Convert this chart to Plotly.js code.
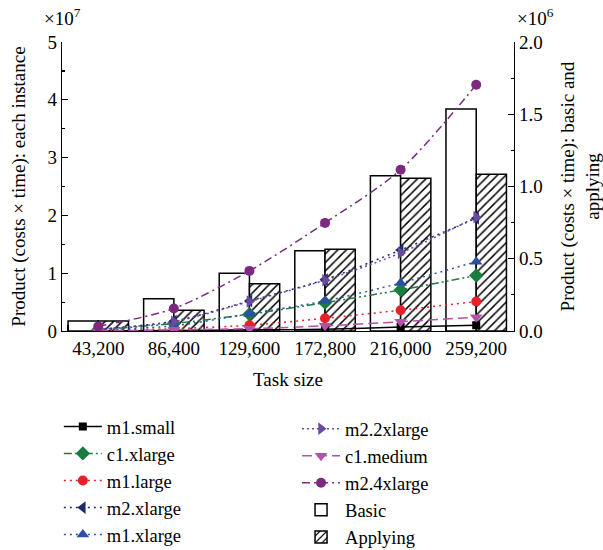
<!DOCTYPE html>
<html>
<head>
<meta charset="utf-8">
<script src="https://cdn.plot.ly/plotly-3.0.1.min.js"></script>
<style>html,body{margin:0;padding:0;background:#fff;}#chart{width:603px;height:550px;}</style>
</head>
<body>
<div id="chart"></div>
<script>
// Task sizes (category labels)
var taskSizes = ["43,200", "86,400", "129,600", "172,800", "216,000", "259,200"];
var catIndex = [0, 1, 2, 3, 4, 5];

// Per-instance products, in units of 10^7 (left axis)
var m1Small   = [0.00, 0.01, 0.02, 0.03, 0.07, 0.10];
var c1Xlarge  = [0.02, 0.13, 0.29, 0.49, 0.71, 0.96];
var m1Large   = [0.01, 0.04, 0.10, 0.22, 0.36, 0.51];
var m2Xlarge  = [0.03, 0.17, 0.52, 0.89, 1.40, 1.95];
var m1Xlarge  = [0.02, 0.09, 0.30, 0.52, 0.83, 1.20];
var m22Xlarge = [0.03, 0.16, 0.51, 0.88, 1.35, 1.97];
var c1Medium  = [0.00, 0.02, 0.04, 0.09, 0.16, 0.24];
var m24Xlarge = [0.08, 0.39, 1.04, 1.87, 2.79, 4.26];

// Basic and applying products, in units of 10^6 (right axis)
var basicVals    = [0.07, 0.224, 0.40, 0.556, 1.075, 1.536];
var applyingVals = [0.07, 0.143, 0.327, 0.565, 1.057, 1.084];

var FONT = "Liberation Serif, Times New Roman, serif";

function lineTrace(name, vals, color, dash, symbol, size, legendId) {
  return {
    type: "scatter", mode: "lines+markers", name: name,
    x: catIndex, y: vals, yaxis: "y2", legend: legendId, legendrank: 100,
    line: {color: color, width: 1.5, dash: dash, shape: "spline", smoothing: 0.8},
    marker: {color: color, symbol: symbol, size: size}
  };
}

var traces = [
  {
    type: "bar", name: "Basic", x: catIndex, y: basicVals, yaxis: "y",
    width: 0.4, offset: -0.4, legend: "legend2", legendrank: 900,
    marker: {color: "#ffffff", line: {color: "#000000", width: 1.5}}
  },
  {
    type: "bar", name: "Applying", x: catIndex, y: applyingVals, yaxis: "y",
    width: 0.4, offset: 0, legend: "legend2", legendrank: 901,
    marker: {color: "#ffffff", line: {color: "#000000", width: 1.5},
             pattern: {shape: "/", fgcolor: "#000000", bgcolor: "#ffffff", size: 6, solidity: 0.25}}
  },
  lineTrace("m1.small",   m1Small,   "#000000", "solid",                  "square",         8,  "legend"),
  lineTrace("c1.xlarge",  c1Xlarge,  "#1a7d40", "8px,3px,2px,3px,2px,3px", "diamond",       11, "legend"),
  lineTrace("m1.large",   m1Large,   "#e8202a", "2px,4px",                "circle",         10, "legend"),
  lineTrace("m2.xlarge",  m2Xlarge,  "#1f2a6e", "2px,4px",                "triangle-left",  11, "legend"),
  lineTrace("m1.xlarge",  m1Xlarge,  "#2d4fa3", "2px,4px",                "triangle-up",    11, "legend"),
  lineTrace("m2.2xlarge", m22Xlarge, "#6a4a9e", "2px,3px",                "triangle-right", 11, "legend2"),
  lineTrace("c1.medium",  c1Medium,  "#b352a8", "10px,5px",               "triangle-down",  11, "legend2"),
  lineTrace("m2.4xlarge", m24Xlarge, "#7b2a7f", "8px,4px,2px,4px",        "circle",         10, "legend2")
];

var axisCommon = {
  showline: true, linecolor: "#000000", linewidth: 1.3, mirror: false,
  ticks: "inside", ticklen: 6, tickwidth: 1.2, tickcolor: "#000000",
  showgrid: false, zeroline: false,
  tickfont: {family: FONT, size: 19, color: "#000000"}
};

var legendCommon = {
  xanchor: "left", yanchor: "top", itemwidth: 38,
  orientation: "v", bgcolor: "rgba(0,0,0,0)", borderwidth: 0,
  font: {family: FONT, size: 18.5}, traceorder: "normal"
};

var layout = {
  width: 603, height: 550,
  paper_bgcolor: "#ffffff", plot_bgcolor: "#ffffff",
  margin: {l: 62, r: 89, t: 42, b: 219, autoexpand: false},
  font: {family: FONT, size: 19, color: "#000000"},
  barmode: "group",
  xaxis: Object.assign({}, axisCommon, {
    range: [-0.48, 5.5], tickmode: "array", tickvals: catIndex, ticktext: taskSizes,
    ticks: "",
    minor: {ticks: "inside", tick0: -0.4, dtick: 1, ticklen: 6, tickwidth: 1.2, tickcolor: "#000000"},
    title: {text: "Task size", font: {family: FONT, size: 19}, standoff: 14}
  }),
  yaxis: Object.assign({}, axisCommon, {
    side: "right", range: [0, 2], dtick: 0.5, tick0: 0, tickformat: ".1f",
    minor: {ticks: "inside", dtick: 0.25, ticklen: 3, tickwidth: 1.2, tickcolor: "#000000"},
    title: {text: "Product (costs × time): basic and<br>applying", font: {family: FONT, size: 19}, standoff: 20}
  }),
  yaxis2: Object.assign({}, axisCommon, {
    side: "left", overlaying: "y", range: [0, 5], dtick: 1, tick0: 0,
    minor: {ticks: "inside", dtick: 0.5, ticklen: 3, tickwidth: 1.2, tickcolor: "#000000"},
    title: {text: "Product (costs × time): each instance", font: {family: FONT, size: 19}, standoff: 16}
  }),
  legend: Object.assign({}, legendCommon, {x: -0.007, y: -0.266}),
  legend2: Object.assign({}, legendCommon, {x: 0.520, y: -0.274}),
  annotations: [
    {xref: "paper", yref: "paper", x: -0.044, y: 1.087, xanchor: "left", yanchor: "middle",
     text: "×10<sup>7</sup>", showarrow: false, font: {family: FONT, size: 19}},
    {xref: "paper", yref: "paper", x: 1.002, y: 1.087, xanchor: "left", yanchor: "middle",
     text: "×10<sup>6</sup>", showarrow: false, font: {family: FONT, size: 19}}
  ]
};

Plotly.newPlot("chart", traces, layout, {displayModeBar: false, staticPlot: true});
</script>
</body>
</html>
